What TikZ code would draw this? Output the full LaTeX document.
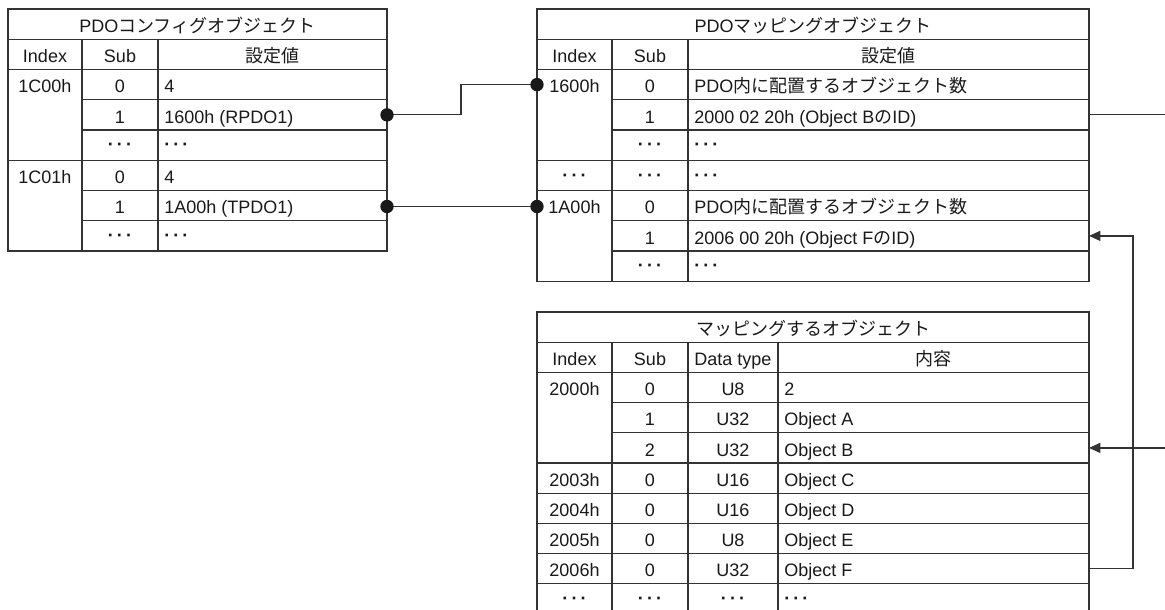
\documentclass[tikz,border=0pt]{standalone}
\usepackage{fontspec}
\setmainfont{Liberation Sans}
\newfontfamily\jp{Noto Sans CJK JP}
\usetikzlibrary{arrows.meta}
\begin{document}
\begin{tikzpicture}[x=0.75pt,y=-0.75pt,
  tline/.style={line width=0.9pt,draw=black!80},
  conn/.style={line width=0.9pt,draw=black!80},
  arr/.style={conn,-{Triangle[length=8.5pt,width=7.5pt]}},
  txt/.style={anchor=base,inner sep=0pt,font=\fontsize{13.5}{16}\selectfont,text=black!90},
  ltxt/.style={txt,anchor=base west},
  dotc/.style={fill=black!90}
]
\useasboundingbox (0,0) rectangle (1165,610);
\def\dd{\raisebox{1.8pt}{\textbf{·\kern2.3pt·\kern2.3pt·}}}
% ---------------- Table 1 ----------------
\draw[tline] (8,9) rectangle (387,251);
\foreach \yy in {39.25,69.5,160.25} \draw[tline] (8,\yy) -- (387,\yy);
\foreach \yy in {99.75,130,190.5,220.75} \draw[tline] (82,\yy) -- (387,\yy);
\foreach \xx in {82,158} \draw[tline] (\xx,39.25) -- (\xx,251);
\node[txt] (t1t) at (197.5,32.3) {PDO{\jp コンフィグオブジェクト}};
\node[txt] (t1h1) at (45,62.6) {Index};
\node[txt] (t1h2) at (120,62.6) {Sub};
\node[txt] (t1h3) at (272.5,62.6) {\jp 設定値};
\node[txt] (t1a1) at (45,92.8) {1C00h};
\node[txt] (t1a2) at (120,92.8) {0};
\node[ltxt] (t1a3) at (164,92.8) {4};
\node[txt] (t1b2) at (120,123.1) {1};
\node[ltxt] (t1b3) at (164,123.1) {1600h (RPDO1)};
\node[txt] (t1c2) at (120,153.3) {\dd};
\node[ltxt] (t1c3) at (164,153.3) {\dd};
\node[txt] (t1d1) at (45,183.6) {1C01h};
\node[txt] (t1d2) at (120,183.6) {0};
\node[ltxt] (t1d3) at (164,183.6) {4};
\node[txt] (t1e2) at (120,213.8) {1};
\node[ltxt] (t1e3) at (164,213.8) {1A00h (TPDO1)};
\node[txt] (t1f2) at (120,244.1) {\dd};
\node[ltxt] (t1f3) at (164,244.1) {\dd};
% ---------------- Table 2 ----------------
\draw[tline] (537,9) rectangle (1089,281.25);
\foreach \yy in {39.25,69.5,160.25,190.5} \draw[tline] (537,\yy) -- (1089,\yy);
\foreach \yy in {99.75,130,220.75,251} \draw[tline] (612,\yy) -- (1089,\yy);
\foreach \xx in {612,688} \draw[tline] (\xx,39.25) -- (\xx,281.25);
\node[txt] (t2t) at (813,32.3) {PDO{\jp マッピングオブジェクト}};
\node[txt] (t2h1) at (574.5,62.6) {Index};
\node[txt] (t2h2) at (650,62.6) {Sub};
\node[txt] (t2h3) at (888.5,62.6) {\jp 設定値};
\node[txt] (t2a1) at (574.5,92.8) {1600h};
\node[txt] (t2a2) at (650,92.8) {0};
\node[ltxt] (t2a3) at (694,92.8) {PDO{\jp 内に配置するオブジェクト数}};
\node[txt] (t2b2) at (650,123.1) {1};
\node[ltxt] (t2b3) at (694,123.1) {2000 02 20h (Object B{\jp の}ID)};
\node[txt] (t2c2) at (650,153.3) {\dd};
\node[ltxt] (t2c3) at (694,153.3) {\dd};
\node[txt] (t2d1) at (574.5,183.6) {\dd};
\node[txt] (t2d2) at (650,183.6) {\dd};
\node[ltxt] (t2d3) at (694,183.6) {\dd};
\node[txt] (t2e1) at (574.5,213.8) {1A00h};
\node[txt] (t2e2) at (650,213.8) {0};
\node[ltxt] (t2e3) at (694,213.8) {PDO{\jp 内に配置するオブジェクト数}};
\node[txt] (t2f2) at (650,244.1) {1};
\node[ltxt] (t2f3) at (694,244.1) {2006 00 20h (Object F{\jp の}ID)};
\node[txt] (t2g2) at (650,274.3) {\dd};
\node[ltxt] (t2g3) at (694,274.3) {\dd};
% ---------------- Table 3 ----------------
\draw[tline] (537,610) -- (537,312) -- (1089,312) -- (1089,610);
\foreach \yy in {342.2,372.4,463,493.2,523.4,553.6,583.8} \draw[tline] (537,\yy) -- (1089,\yy);
\foreach \yy in {402.6,432.8} \draw[tline] (612,\yy) -- (1089,\yy);
\foreach \xx in {612,688,778} \draw[tline] (\xx,342.2) -- (\xx,610);
\node[txt] (t3t) at (813,335.3) {\jp マッピングするオブジェクト};
\node[txt] (t3h1) at (574.5,365.5) {Index};
\node[txt] (t3h2) at (650,365.5) {Sub};
\node[txt] (t3h3) at (733,365.5) {Data type};
\node[txt] (t3h4) at (933.5,365.5) {\jp 内容};
\node[txt] (t3a1) at (574.5,395.7) {2000h};
\node[txt] (t3a2) at (650,395.7) {0};
\node[txt] (t3a3) at (733,395.7) {U8};
\node[ltxt] (t3a4) at (784,395.7) {2};
\node[txt] (t3b2) at (650,425.9) {1};
\node[txt] (t3b3) at (733,425.9) {U32};
\node[ltxt] (t3b4) at (784,425.9) {Object A};
\node[txt] (t3c2) at (650,456.1) {2};
\node[txt] (t3c3) at (733,456.1) {U32};
\node[ltxt] (t3c4) at (784,456.1) {Object B};
\node[txt] (t3d1) at (574.5,486.3) {2003h};
\node[txt] (t3d2) at (650,486.3) {0};
\node[txt] (t3d3) at (733,486.3) {U16};
\node[ltxt] (t3d4) at (784,486.3) {Object C};
\node[txt] (t3e1) at (574.5,516.5) {2004h};
\node[txt] (t3e2) at (650,516.5) {0};
\node[txt] (t3e3) at (733,516.5) {U16};
\node[ltxt] (t3e4) at (784,516.5) {Object D};
\node[txt] (t3f1) at (574.5,546.7) {2005h};
\node[txt] (t3f2) at (650,546.7) {0};
\node[txt] (t3f3) at (733,546.7) {U8};
\node[ltxt] (t3f4) at (784,546.7) {Object E};
\node[txt] (t3g1) at (574.5,576.9) {2006h};
\node[txt] (t3g2) at (650,576.9) {0};
\node[txt] (t3g3) at (733,576.9) {U32};
\node[ltxt] (t3g4) at (784,576.9) {Object F};
\node[txt] (t3h1x) at (574.5,607.1) {\dd};
\node[txt] (t3h2x) at (650,607.1) {\dd};
\node[txt] (t3h3x) at (733,607.1) {\dd};
\node[ltxt] (t3h4x) at (784,607.1) {\dd};
% ---------------- connectors ----------------
\coordinate (p1600src) at (387,114.9);
\coordinate (p1600dst) at (537,84.6);
\coordinate (p1a00src) at (387,206.5);
\coordinate (p1a00dst) at (537,206.5);
\coordinate (pBsrc) at (1089,114.9);
\coordinate (pBedge) at (1165,114.9);
\coordinate (pBedge2) at (1165,447.9);
\coordinate (pBdst) at (1089,447.9);
\coordinate (pFsrc) at (1089,568.7);
\coordinate (pFdst) at (1089,235.9);
\draw[conn] (p1600src) -- ++(74,0) |- (p1600dst);
\draw[conn] (p1a00src) -- (p1a00dst);
\fill[dotc] (p1600src) circle[radius=5pt];
\fill[dotc] (p1600dst) circle[radius=5pt];
\fill[dotc] (p1a00src) circle[radius=5pt];
\fill[dotc] (p1a00dst) circle[radius=5pt];
\draw[conn] (pBsrc) -- (pBedge);
\draw[arr] (pBedge2) -- (pBdst);
\draw[arr] (pFsrc) -- ++(44,0) |- (pFdst);
\end{tikzpicture}
\end{document}
